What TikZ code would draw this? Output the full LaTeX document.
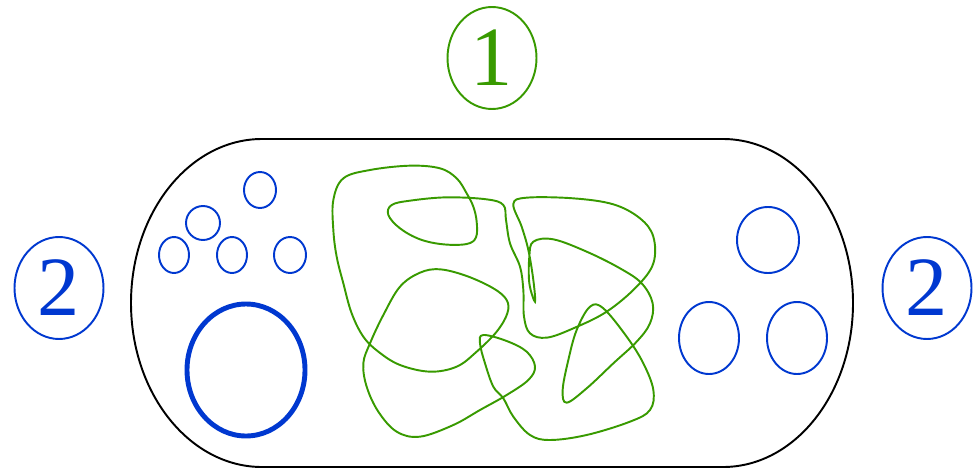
\documentclass[tikz,border=0pt]{standalone}
\usepackage{fontspec}
\setmainfont{Liberation Serif}
\usepackage{tikz}
\usetikzlibrary{shapes.geometric}

\definecolor{tanglegreen}{RGB}{56,154,0}
\definecolor{dotblue}{RGB}{0,56,208}

\begin{document}
\begin{tikzpicture}[x=0.02cm,y=-0.02cm,
  tag/.style={ellipse,draw,line width=1.1pt,inner sep=0pt,
    minimum width=1.78cm,minimum height=2.04cm,
    font=\fontsize{48}{48}\selectfont},
  dot/.style={draw=dotblue,line width=1.1pt}]
\path[use as bounding box] (0,0) rectangle (973,470);
% outer boundary (y runs downwards here)
\draw[line width=1.1pt] (262,139) -- (723,139)
  arc[start angle=-90,end angle=90,x radius=130,y radius=164]
  -- (262,467)
  arc[start angle=90,end angle=270,x radius=131,y radius=164] -- cycle;
% labels
\node[tag,tanglegreen] (one) at (492,58) {1};
\node[tag,dotblue] (twoleft) at (59,288) {2};
\node[tag,dotblue] (tworight) at (927,288) {2};
% small blue circles
\foreach \cx/\cy/\rx/\ry in {260/190/16/18,203/223/17/17,174/255/15/18,
  232/255/15/18,290/255/16/18,768/240/31/33,709/338/30/36,797/338/30/36}
  \draw[dot] (\cx,\cy) ellipse[x radius=\rx,y radius=\ry];
\draw[dot,line width=2.8pt] (246,370) ellipse[x radius=59,y radius=66];
% tangled line
\begin{scope}[shift={(320,150)},scale=1/3]
\draw[tanglegreen,line width=1.1pt] plot[smooth cycle,tension=0.6] coordinates {
  (40,240) (40,150) (70,85) (150,60) (270,47) (360,55) (410,85) (440,130)
  (460,170) (470,215) (468,262) (440,282) (370,283) (300,268) (240,235)
  (205,195) (215,165) (270,152) (380,142) (500,148) (550,165) (558,210)
  (570,280) (600,350) (610,420) (612,500) (630,550) (680,563) (760,535)
  (860,485) (950,410) (1000,340) (1000,260) (960,205) (880,163) (760,145)
  (620,143) (580,162) (605,230) (625,300) (640,390) (645,455) (628,400)
  (628,320) (640,275) (700,268) (800,305) (900,355) (965,400) (998,460)
  (990,520) (950,575) (880,640) (800,715) (740,758) (728,720) (745,630)
  (770,540) (810,470) (850,475) (920,560) (970,640) (1000,720) (990,780)
  (930,815) (800,855) (690,870) (630,855) (580,800) (550,745) (520,710)
  (495,640) (480,580) (490,555) (560,573) (620,605) (645,650) (625,690)
  (560,735) (480,780) (400,825) (300,860) (230,845) (175,785) (140,710)
  (130,640) (150,580) (190,495) (240,410) (300,368) (360,358) (440,378)
  (520,415) (560,450) (562,490) (530,545) (470,605) (410,650) (330,665)
  (240,645) (175,605) (130,560) (95,490) (70,400) (50,320)};
\end{scope}
\end{tikzpicture}
\end{document}
